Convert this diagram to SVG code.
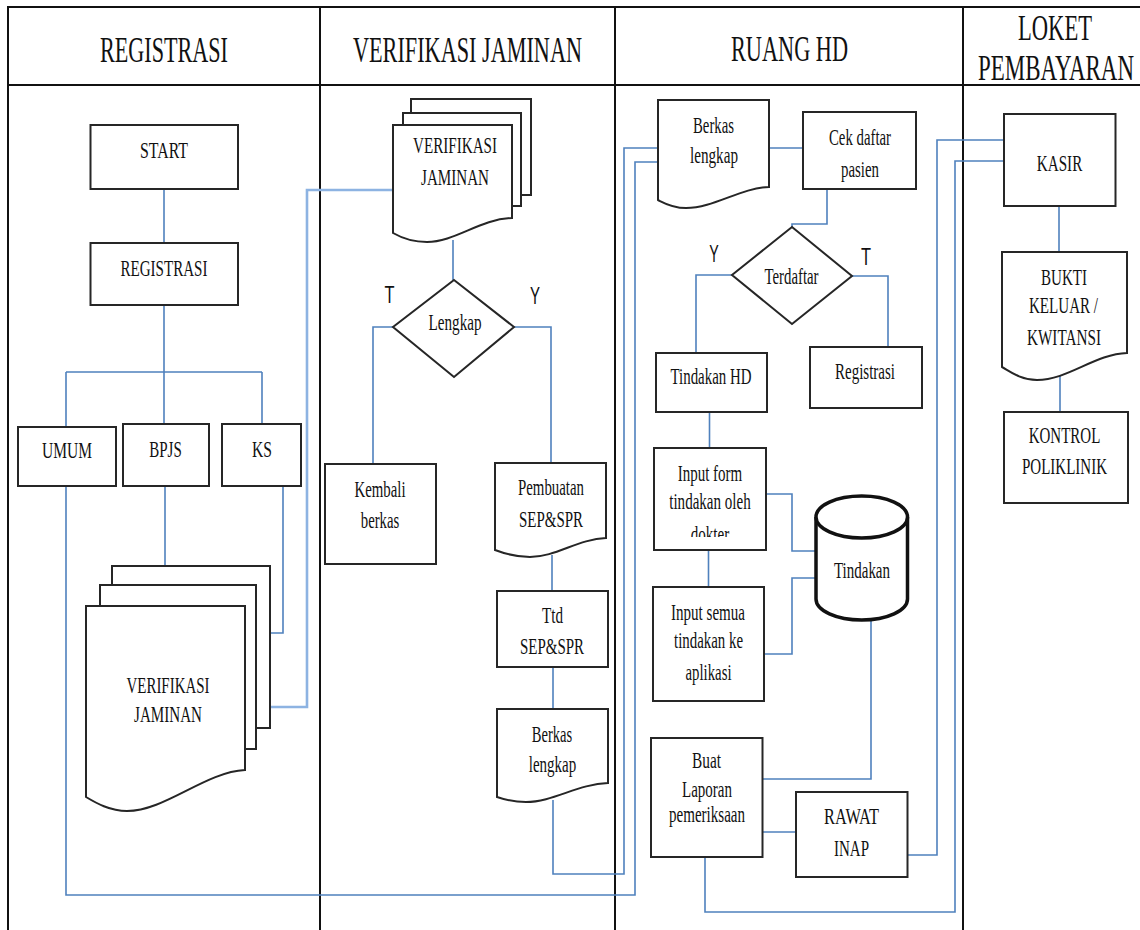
<svg xmlns="http://www.w3.org/2000/svg" width="1140" height="930" viewBox="0 0 1140 930">
<style>
.frame{fill:none;stroke:#111;stroke-width:2}
.box{fill:#fff;stroke:#262626;stroke-width:2}
.cyl{fill:#fff;stroke:#111;stroke-width:3.5}
.conn{fill:none;stroke:#4f81bd;stroke-width:1.6}
.conn2{fill:none;stroke:#8db3e2;stroke-width:2.6}
.t{font-family:"Liberation Serif","Times New Roman",serif;font-size:24px;fill:#111;text-anchor:middle}
.h{font-size:35px}
.lbl{font-family:"Liberation Sans",Arial,sans-serif;font-size:24px;fill:#111;text-anchor:middle}
</style>
<defs>
<clipPath id="clipInput"><rect x="654" y="448" width="112" height="89"/></clipPath>
</defs>
<rect width="1140" height="930" fill="#fff"/>

<g id="frame">
<path class="frame" d="M8,930 V7 H1140 M8,85 H1140 M320,7 V930 M615,7 V930 M963,7 V930"/>
<text class="t h" x="164" y="62" textLength="128" lengthAdjust="spacingAndGlyphs">REGISTRASI</text>
<text class="t h" x="467.5" y="62" textLength="229" lengthAdjust="spacingAndGlyphs">VERIFIKASI JAMINAN</text>
<text class="t h" x="789.5" y="61" textLength="117" lengthAdjust="spacingAndGlyphs">RUANG HD</text>
<text class="t h" x="1055" y="40" textLength="74" lengthAdjust="spacingAndGlyphs">LOKET</text>
<text class="t h" x="1056" y="80" textLength="156" lengthAdjust="spacingAndGlyphs">PEMBAYARAN</text>
</g>

<g id="connectors">
<path class="conn" d="M164,189 V243"/>
<path class="conn" d="M164,305 V424 M66,372 H262 M66,372 V427 M262,372 V424"/>
<path class="conn" d="M165,486 V566"/>
<path class="conn" d="M262,486 H283 V633 H245"/>
<path class="conn" d="M66,486 V895 H635 V162 H658"/>
<path class="conn2" d="M393,190 H307 V707 H259"/>
<path class="conn" d="M453,240 V280"/>
<path class="conn" d="M393,327 H373 V464"/>
<path class="conn" d="M514,327 H551 V463"/>
<path class="conn" d="M552,555 V591"/>
<path class="conn" d="M553,667 V709"/>
<path class="conn" d="M553,800 V874 H624 V148 H658"/>
<path class="conn" d="M765,148 H803"/>
<path class="conn" d="M862,189 H827 V224 H792 V227"/>
<path class="conn" d="M732,275 H696 V353"/>
<path class="conn" d="M852,276 H888 V347"/>
<path class="conn" d="M709.5,412 V448"/>
<path class="conn" d="M708.5,550 V587"/>
<path class="conn" d="M766,494 H792 V551 H817"/>
<path class="conn" d="M764,654 H792 V578 H817"/>
<path class="conn" d="M871,620 V779 H763"/>
<path class="conn" d="M762,832 H796"/>
<path class="conn" d="M905,855 H937 V140 H1003"/>
<path class="conn" d="M705,857 V912 H955 V161 H1005"/>
<path class="conn" d="M1059,206 V252"/>
<path class="conn" d="M1060,370 V412"/>
</g>

<g id="start">
<rect class="box" x="90.5" y="125" width="147.5" height="64"/>
<text class="t" x="164" y="158" textLength="48" lengthAdjust="spacingAndGlyphs">START</text>
</g>
<g id="registrasi">
<rect class="box" x="90.5" y="243" width="147.5" height="62"/>
<text class="t" x="164" y="276" textLength="87" lengthAdjust="spacingAndGlyphs">REGISTRASI</text>
</g>
<g id="umum">
<rect class="box" x="18" y="427" width="98" height="59"/>
<text class="t" x="67" y="458" textLength="50" lengthAdjust="spacingAndGlyphs">UMUM</text>
</g>
<g id="bpjs">
<rect class="box" x="123" y="424" width="86" height="62"/>
<text class="t" x="165.5" y="457" textLength="32.5" lengthAdjust="spacingAndGlyphs">BPJS</text>
</g>
<g id="ks">
<rect class="box" x="222" y="424" width="79" height="62"/>
<text class="t" x="262" y="457" textLength="20" lengthAdjust="spacingAndGlyphs">KS</text>
</g>
<g id="verifikasi-reg">
<path class="box" d="M112,585 V566 H270 V728 H256"/>
<path class="box" d="M100,606 V585 H256 V749 H245"/>
<path class="box" d="M86,606 H245 V770 C205,772 165,811 127,811 C110,811 96,803 86,797 Z"/>
<text class="t" x="168" y="693" textLength="83" lengthAdjust="spacingAndGlyphs">VERIFIKASI</text>
<text class="t" x="168" y="722" textLength="68" lengthAdjust="spacingAndGlyphs">JAMINAN</text>
</g>

<g id="verifikasi-jaminan">
<path class="box" d="M411,113 V99 H531 V195 H521"/>
<path class="box" d="M403,125 V113 H521 V206 H512"/>
<path class="box" d="M393,125 H512 V218 C480,219 455,242 427,242 C412,242 400,237 393,233 Z"/>
<text class="t" x="455" y="153" textLength="84" lengthAdjust="spacingAndGlyphs">VERIFIKASI</text>
<text class="t" x="455" y="185" textLength="68" lengthAdjust="spacingAndGlyphs">JAMINAN</text>
</g>
<g id="lengkap">
<path class="box" d="M454,280 L514,327 L454,377 L393,327 Z"/>
<text class="t" x="455" y="330" textLength="53" lengthAdjust="spacingAndGlyphs">Lengkap</text>
<text class="lbl" x="389.5" y="303" textLength="10" lengthAdjust="spacingAndGlyphs">T</text>
<text class="lbl" x="535" y="304" textLength="10" lengthAdjust="spacingAndGlyphs">Y</text>
</g>
<g id="kembali">
<rect class="box" x="325" y="464" width="111" height="100"/>
<text class="t" x="380" y="497" textLength="51" lengthAdjust="spacingAndGlyphs">Kembali</text>
<text class="t" x="380" y="528" textLength="38.5" lengthAdjust="spacingAndGlyphs">berkas</text>
</g>
<g id="pembuatan">
<path class="box" d="M495,463 H606 V538 C578,539 556,557 530,557 C515,557 503,553 495,550 Z"/>
<text class="t" x="551" y="495" textLength="66" lengthAdjust="spacingAndGlyphs">Pembuatan</text>
<text class="t" x="551" y="527" textLength="64" lengthAdjust="spacingAndGlyphs">SEP&amp;SPR</text>
</g>
<g id="ttd">
<rect class="box" x="497" y="591" width="111" height="76"/>
<text class="t" x="552.5" y="623" textLength="21" lengthAdjust="spacingAndGlyphs">Ttd</text>
<text class="t" x="552" y="654" textLength="64" lengthAdjust="spacingAndGlyphs">SEP&amp;SPR</text>
</g>
<g id="berkas-verif">
<path class="box" d="M497,709 H608 V783 C578,784 553,802 526,802 C512,802 503,799 497,797 Z"/>
<text class="t" x="552" y="742" textLength="40.5" lengthAdjust="spacingAndGlyphs">Berkas</text>
<text class="t" x="552.5" y="772" textLength="47.5" lengthAdjust="spacingAndGlyphs">lengkap</text>
</g>

<g id="berkas-hd">
<path class="box" d="M658,100 H769 V187 C740,188 714,208 686,208 C672,208 664,203 658,200 Z"/>
<text class="t" x="713.5" y="133" textLength="41" lengthAdjust="spacingAndGlyphs">Berkas</text>
<text class="t" x="714" y="163" textLength="48" lengthAdjust="spacingAndGlyphs">lengkap</text>
</g>
<g id="cek">
<rect class="box" x="803" y="112" width="113" height="77"/>
<text class="t" x="860" y="145" textLength="62" lengthAdjust="spacingAndGlyphs">Cek daftar</text>
<text class="t" x="860" y="177" textLength="38" lengthAdjust="spacingAndGlyphs">pasien</text>
</g>
<g id="terdaftar">
<path class="box" d="M792,227 L852,276 L792,324 L732,275 Z"/>
<text class="t" x="791.5" y="284" textLength="54" lengthAdjust="spacingAndGlyphs">Terdaftar</text>
<text class="lbl" x="714" y="262" textLength="9.5" lengthAdjust="spacingAndGlyphs">Y</text>
<text class="lbl" x="866" y="265" textLength="10" lengthAdjust="spacingAndGlyphs">T</text>
</g>
<g id="tindakan-hd">
<rect class="box" x="656" y="353" width="111" height="59"/>
<text class="t" x="711" y="384" textLength="81" lengthAdjust="spacingAndGlyphs">Tindakan HD</text>
</g>
<g id="registrasi-hd">
<rect class="box" x="810" y="347" width="112" height="61"/>
<text class="t" x="865" y="379" textLength="60" lengthAdjust="spacingAndGlyphs">Registrasi</text>
</g>
<g id="input-form">
<rect class="box" x="654" y="448" width="112" height="102"/>
<text class="t" x="710" y="481" textLength="64.5" lengthAdjust="spacingAndGlyphs">Input form</text>
<text class="t" x="710" y="509" textLength="81.5" lengthAdjust="spacingAndGlyphs">tindakan oleh</text>
<text class="t" x="710" y="542" textLength="38.5" lengthAdjust="spacingAndGlyphs" clip-path="url(#clipInput)">dokter</text>
</g>
<g id="input-semua">
<rect class="box" x="653" y="587" width="111" height="114"/>
<text class="t" x="708" y="620" textLength="74" lengthAdjust="spacingAndGlyphs">Input semua</text>
<text class="t" x="708.5" y="648" textLength="69" lengthAdjust="spacingAndGlyphs">tindakan ke</text>
<text class="t" x="708.5" y="680" textLength="46" lengthAdjust="spacingAndGlyphs">aplikasi</text>
</g>
<g id="tindakan-db">
<path class="cyl" d="M816,517 V599 A45.75,21 0 0 0 907.5,599 V517"/>
<ellipse class="cyl" cx="861.75" cy="517" rx="45.75" ry="21"/>
<text class="t" x="862" y="578" textLength="56" lengthAdjust="spacingAndGlyphs">Tindakan</text>
</g>
<g id="buat-laporan">
<rect class="box" x="651" y="738" width="111.5" height="119"/>
<text class="t" x="706.5" y="768" textLength="29" lengthAdjust="spacingAndGlyphs">Buat</text>
<text class="t" x="707" y="797" textLength="50" lengthAdjust="spacingAndGlyphs">Laporan</text>
<text class="t" x="707" y="822" textLength="76" lengthAdjust="spacingAndGlyphs">pemeriksaan</text>
</g>
<g id="rawat-inap">
<rect class="box" x="796" y="792" width="111.5" height="85"/>
<text class="t" x="851.5" y="824" textLength="55" lengthAdjust="spacingAndGlyphs">RAWAT</text>
<text class="t" x="851.5" y="856" textLength="35" lengthAdjust="spacingAndGlyphs">INAP</text>
</g>

<g id="kasir">
<rect class="box" x="1004" y="114" width="111.5" height="92"/>
<text class="t" x="1059.5" y="171" textLength="45.5" lengthAdjust="spacingAndGlyphs">KASIR</text>
</g>
<g id="bukti">
<path class="box" d="M1002,252 H1127 V353 C1095,354 1068,380 1037,380 C1020,380 1008,370 1002,367 Z"/>
<text class="t" x="1064" y="285" textLength="46" lengthAdjust="spacingAndGlyphs">BUKTI</text>
<text class="t" x="1063.5" y="313" textLength="69" lengthAdjust="spacingAndGlyphs">KELUAR /</text>
<text class="t" x="1064" y="345" textLength="74" lengthAdjust="spacingAndGlyphs">KWITANSI</text>
</g>
<g id="kontrol">
<rect class="box" x="1004" y="412" width="124" height="91"/>
<text class="t" x="1064.5" y="443" textLength="71.6" lengthAdjust="spacingAndGlyphs">KONTROL</text>
<text class="t" x="1064.5" y="474" textLength="85" lengthAdjust="spacingAndGlyphs">POLIKLINIK</text>
</g>
</svg>
